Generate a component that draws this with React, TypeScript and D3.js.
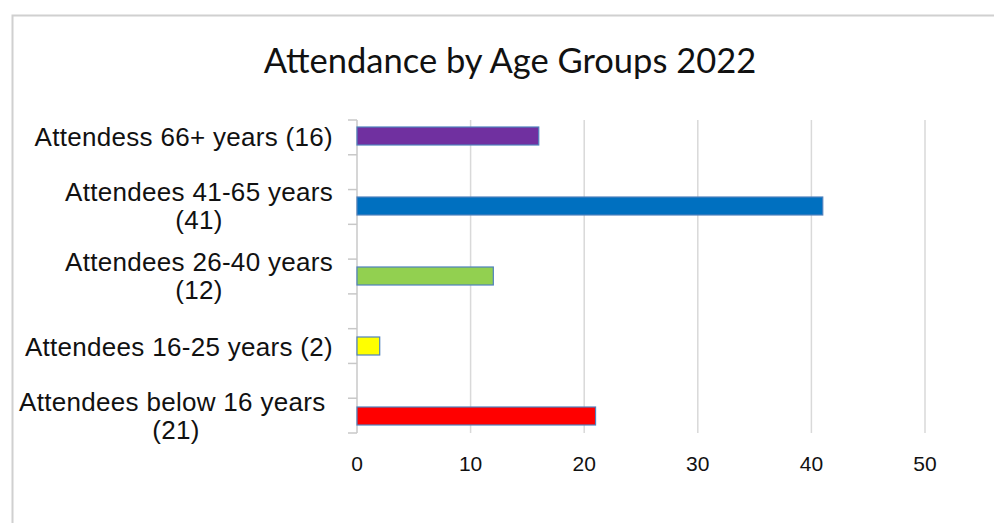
import React, { useEffect, useRef } from "react";
import * as d3 from "d3";

// chart data
const labelLines = [
  ["Attendess 66+ years (16)"],
  ["Attendees 41-65 years", "(41)"],
  ["Attendees 26-40 years", "(12)"],
  ["Attendees 16-25 years (2)"],
  ["Attendees below 16 years ", "(21)"],
];
const values = [16, 41, 12, 2, 21];
const colors = ["#7030A0", "#0070C0", "#92D050", "#FFFF00", "#FF0000"];
const xTicks = [0, 10, 20, 30, 40, 50];
const title = "Attendance by Age Groups 2022";

const W = 994;
const H = 523;

export default function App() {
  const ref = useRef<SVGSVGElement>(null);

  useEffect(() => {
    const svg = d3.select(ref.current);
    svg.selectAll("*").remove();

    const left = 357;
    const right = 925;
    const top = 120;
    const bottom = 433;

    const x = d3.scaleLinear().domain([0, 50]).range([left, right]);
    const cats = labelLines.map((l) => l.join(" "));
    const y = d3.scaleBand().domain(cats).range([101, 451]);
    const tickY = d3.scaleLinear().domain([0, 9]).range([top, bottom]);

    // frame
    svg
      .append("rect")
      .attr("x", 12.5)
      .attr("y", 15.5)
      .attr("width", W + 20)
      .attr("height", H + 20)
      .attr("fill", "#fff")
      .attr("stroke", "#d0d0d0")
      .attr("stroke-width", 2);

    svg
      .append("text")
      .attr("x", 510)
      .attr("y", 73)
      .attr("text-anchor", "middle")
      .attr("font-family", "Lato, 'Open Sans', sans-serif")
      .attr("font-size", 34.5)
      .attr("fill", "#111")
      .text(title);

    // grid
    svg
      .append("g")
      .selectAll("line")
      .data(xTicks.slice(1))
      .join("line")
      .attr("x1", (d) => x(d))
      .attr("x2", (d) => x(d))
      .attr("y1", top)
      .attr("y2", bottom)
      .attr("stroke", "#d9d9d9")
      .attr("stroke-width", 1.5);

    // category axis
    svg
      .append("line")
      .attr("x1", left)
      .attr("x2", left)
      .attr("y1", top)
      .attr("y2", bottom)
      .attr("stroke", "#c8c8c8")
      .attr("stroke-width", 1.5);
    svg
      .append("g")
      .selectAll("line")
      .data(d3.range(10))
      .join("line")
      .attr("x1", left - 9)
      .attr("x2", left)
      .attr("y1", (d) => tickY(d))
      .attr("y2", (d) => tickY(d))
      .attr("stroke", "#c8c8c8")
      .attr("stroke-width", 1.5);

    // bars
    const bh = 18;
    svg
      .append("g")
      .selectAll("rect")
      .data(values)
      .join("rect")
      .attr("x", x(0))
      .attr("y", (d, i) => y(cats[i])! + y.bandwidth() / 2 - bh / 2)
      .attr("width", (d) => x(d) - x(0))
      .attr("height", bh)
      .attr("fill", (d, i) => colors[i])
      .attr("stroke", "#4F81BD")
      .attr("stroke-width", 1.2);

    // category labels
    const font = "'Liberation Sans', Arial, sans-serif";
    const label = (s: string, xp: number, yp: number, anchor: string) =>
      svg
        .append("text")
        .attr("x", xp)
        .attr("y", yp)
        .attr("text-anchor", anchor)
        .attr("font-family", font)
        .attr("font-size", 26)
        .attr("letter-spacing", 0.3)
        .attr("fill", "#111")
        .style("white-space", "pre")
        .text(s);
    labelLines.forEach((lines, i) => {
      const c = y(cats[i])! + y.bandwidth() / 2;
      if (lines.length === 1) {
        label(lines[0], 333, c + 10, "end");
      } else {
        const t1 = label(lines[0], 333, c - 5, "end");
        const w = (t1.node() as SVGTextElement).getComputedTextLength();
        label(lines[1], 333 - w / 2, c + 23, "middle");
      }
    });

    // x tick labels
    svg
      .append("g")
      .selectAll("text")
      .data(xTicks)
      .join("text")
      .attr("x", (d) => x(d))
      .attr("y", 471)
      .attr("text-anchor", "middle")
      .attr("font-family", font)
      .attr("font-size", 21)
      .attr("fill", "#111")
      .text((d) => d);
  }, []);

  return (
    <div style={{ position: "fixed", left: 0, top: 0 }}>
      <svg ref={ref} width={W} height={H} style={{ display: "block", background: "#fff" }} />
    </div>
  );
}
